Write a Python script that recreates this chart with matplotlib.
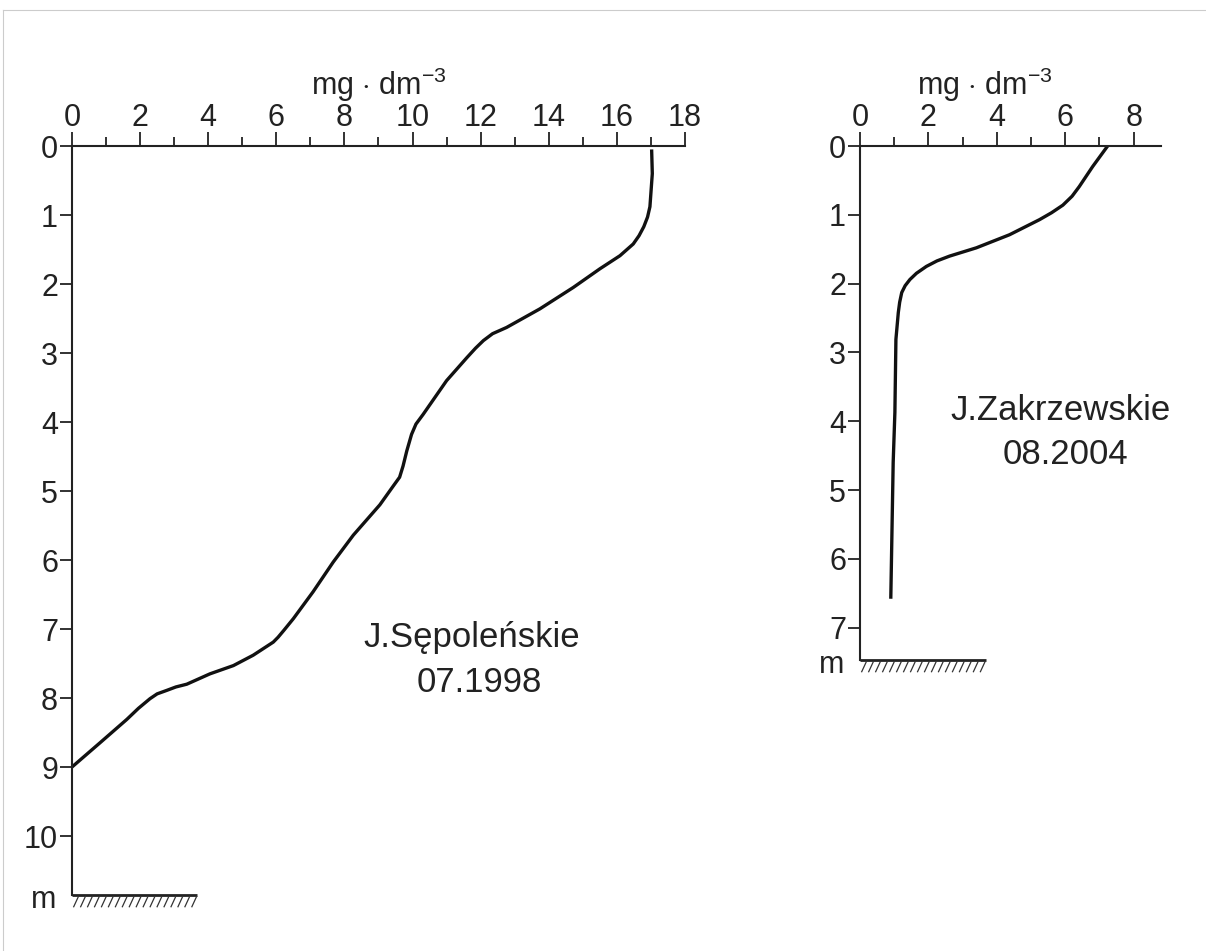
import numpy as np
import matplotlib
matplotlib.use("Agg")
import matplotlib.pyplot as plt
from matplotlib.lines import Line2D

plt.rcParams['font.family'] = ['Liberation Sans', 'DejaVu Sans']
plt.rcParams['mathtext.fontset'] = 'custom'
plt.rcParams['mathtext.rm'] = 'Liberation Sans'

# oxygen profiles
sep_conc = [17.02, 17.04, 16.97, 16.90, 16.79, 16.65, 16.48, 16.09, 15.50, 14.72,
            13.74, 12.76, 12.35, 12.08, 11.85, 11.59, 11.0, 10.31, 10.10, 9.97,
            9.83, 9.72, 9.62, 9.43, 9.04, 8.26, 7.67, 7.08, 6.50, 6.22,
            6.05, 5.91, 5.32, 4.74, 4.05, 3.37, 3.05, 2.78, 2.50, 2.29,
            1.95, 1.61, 0.82, 0.0]
sep_depth = [0.05, 0.40, 0.88, 1.03, 1.17, 1.30, 1.42, 1.59, 1.78, 2.05,
             2.36, 2.63, 2.72, 2.82, 2.93, 3.07, 3.40, 3.89, 4.03, 4.18,
             4.42, 4.64, 4.80, 4.93, 5.20, 5.64, 6.03, 6.46, 6.85, 7.02,
             7.12, 7.19, 7.38, 7.53, 7.65, 7.80, 7.84, 7.89, 7.94, 8.01,
             8.15, 8.31, 8.65, 9.0]

zak_conc = [7.24, 6.80, 6.41, 6.20, 5.93, 5.60, 5.25, 4.37, 3.40, 2.62,
            2.25, 1.94, 1.65, 1.46, 1.32, 1.22, 1.16, 1.12, 1.05, 1.02,
            0.97, 0.90]
zak_depth = [0.0, 0.30, 0.59, 0.73, 0.86, 0.97, 1.07, 1.29, 1.48, 1.60,
             1.67, 1.75, 1.85, 1.94, 2.03, 2.13, 2.27, 2.42, 2.81, 3.87,
             4.60, 6.58]

sep_xticks = list(range(0, 19, 2))
sep_yticks = list(range(0, 11))
zak_xticks = list(range(0, 9, 2))
zak_yticks = list(range(0, 8))

unit_label = r'mg $\cdot$ dm$^{\mathregular{-3}}$'

W, H = 1206, 951
fig = plt.figure(figsize=(W / 100, H / 100), dpi=100)
fig.patch.set_facecolor('white')

TICK_FS = 22
TEXT_FS = 25
INK = '#222222'


def px_axes(x0, x1, y0, y1):
    return fig.add_axes([x0 / W, 1 - y1 / H, (x1 - x0) / W, (y1 - y0) / H])


def style(ax, xmax, ymax, xticks, yticks, ground_len):
    ax.set_xlim(0, xmax)
    ax.set_ylim(ymax, 0)
    for s in ['right', 'bottom']:
        ax.spines[s].set_visible(False)
    for s in ['top', 'left']:
        ax.spines[s].set_linewidth(1.5)
        ax.spines[s].set_color(INK)
    ax.xaxis.set_ticks_position('top')
    ax.set_xticks(xticks)
    ax.set_xticks([t + 1 for t in xticks if t + 1 <= xmax], minor=True)
    ax.set_yticks(yticks)
    ax.tick_params(axis='x', which='major', direction='out', length=10,
                   width=1.3, labelsize=TICK_FS, pad=-1, colors=INK)
    ax.tick_params(axis='x', which='minor', direction='out', length=6.5,
                   width=1.3, colors=INK)
    ax.tick_params(axis='y', direction='out', length=9, width=1.3,
                   labelsize=TICK_FS, pad=1, colors=INK)
    ax.patch.set_alpha(0)
    # ground with hatching
    ax.plot([0, ground_len], [ymax, ymax], color=INK, lw=2,
            clip_on=False, solid_capstyle='butt')
    for hx in np.linspace(0.05, ground_len - 0.15, 18):
        ax.plot([hx, hx + 0.14], [ymax + 0.17, ymax + 0.02], color='#333333',
                lw=0.9, clip_on=False)
    ax.text(-0.45, ymax + 0.07, 'm', ha='right', va='center', fontsize=TICK_FS,
            color=INK)


# left panel
ax1 = px_axes(72, 685, 146, 895)
style(ax1, 18, 10.855, sep_xticks, sep_yticks, 3.67)
ax1.plot(sep_conc, sep_depth, color='#111111', lw=2.4, solid_capstyle='butt',
         solid_joinstyle='round')
ax1.text(9.0, -0.74, unit_label, ha='center', va='baseline', fontsize=TICK_FS,
         color=INK)
ax1.text(11.74, 7.12, 'J.Sępoleńskie', ha='center', va='center',
         fontsize=TEXT_FS, color=INK)
ax1.text(11.95, 7.77, '07.1998', ha='center', va='center', fontsize=TEXT_FS,
         color=INK)

# right panel
ax2 = px_axes(860, 1161, 146, 660)
style(ax2, 8.8, 7.47, zak_xticks, zak_yticks, 3.67)
ax2.plot(zak_conc, zak_depth, color='#111111', lw=2.4, solid_capstyle='butt',
         solid_joinstyle='round')
ax2.text(3.65, -0.74, unit_label, ha='center', va='baseline', fontsize=TICK_FS,
         color=INK)
ax2.text(5.87, 3.84, 'J.Zakrzewskie', ha='center', va='center',
         fontsize=TEXT_FS, color=INK, clip_on=False)
ax2.text(6.0, 4.49, '08.2004', ha='center', va='center', fontsize=TEXT_FS,
         color=INK, clip_on=False)

# thin frame of the original image
fig.add_artist(Line2D([3 / W, 1], [1 - 10 / H, 1 - 10 / H], color='#cccccc', lw=0.8))
fig.add_artist(Line2D([3 / W, 3 / W], [0, 1 - 10 / H], color='#cccccc', lw=0.8))

fig.savefig('out.png', dpi=100)
